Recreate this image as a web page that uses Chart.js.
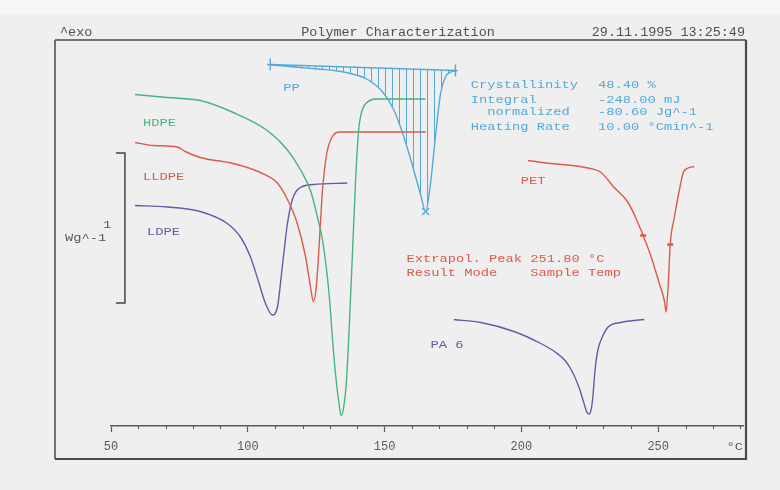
<!DOCTYPE html>
<html>
<head>
<meta charset="utf-8">
<title>Polymer Characterization</title>
<script src="https://cdn.jsdelivr.net/npm/chart.js@4.4.1/dist/chart.umd.min.js"></script>
<style>
  html, body { margin:0; padding:0; background:#efefef; }
  #wrap { width:780px; height:490px; }
</style>
</head>
<body>
<div id="wrap"><canvas id="dsc" width="780" height="490"></canvas></div>
<script>
/* DSC melting curves
   temperature in °C, heat flow in W/g (curves shifted, scale bar = 1 W/g) */

const TEMP_TICKS = [50, 100, 150, 200, 250];

const HDPE_T = [58.8, 70.5, 82.6, 94.7, 107.1, 114.5, 119.2, 122.9, 125.5, 127.3, 128.8, 129.9, 131.0, 132.1, 133.2, 134.1, 135.0, 136.1, 137.2, 138.3, 139.4, 140.5, 141.9, 143.8, 146.7, 165.0];
const HDPE_V = [2.21, 2.19, 2.17, 2.09, 1.97, 1.84, 1.71, 1.57, 1.39, 1.24, 1.04, 0.84, 0.57, 0.34, 0.17, 0.07, 0.12, 0.31, 0.71, 1.17, 1.64, 1.97, 2.11, 2.16, 2.18, 2.18];

const LLDPE_T = [58.8, 65.4, 74.2, 77.1, 82.6, 94.7, 104.6, 110.8, 114.5, 118.1, 121.1, 122.9, 124.0, 125.1, 126.2, 127.3, 128.8, 130.6, 133.9, 137.5, 165.0];
const LLDPE_V = [1.89, 1.87, 1.86, 1.83, 1.79, 1.75, 1.69, 1.62, 1.51, 1.35, 1.13, 0.93, 0.83, 0.94, 1.24, 1.57, 1.81, 1.92, 1.96, 1.96, 1.96];

const LDPE_T = [58.8, 70.5, 82.6, 92.5, 97.3, 100.9, 103.8, 106.4, 109.0, 110.8, 112.6, 114.5, 116.3, 119.2, 124.0, 136.4];
const LDPE_V = [1.47, 1.46, 1.43, 1.35, 1.26, 1.13, 0.97, 0.82, 0.74, 0.79, 1.06, 1.35, 1.51, 1.59, 1.61, 1.62];

const PP_T = [107.1, 119.2, 125.5, 131.3, 137.5, 143.8, 149.6, 153.3, 157.0, 160.6, 163.2, 165.0, 166.8, 168.7, 170.5, 172.3, 174.2, 176.7];
const PP_V = [2.41, 2.39, 2.38, 2.37, 2.35, 2.31, 2.22, 2.11, 1.93, 1.71, 1.54, 1.43, 1.62, 1.95, 2.22, 2.33, 2.36, 2.37];
const PP_BASE_T = [108.2, 175.9];
const PP_BASE_V = [2.41, 2.37];

const PET_T = [202.4, 210.8, 217.0, 224.4, 229.1, 233.9, 239.0, 242.7, 244.5, 247.4, 250.4, 252.2, 252.9, 253.3, 253.7, 254.4, 255.9, 257.7, 259.2, 261.0, 263.2];
const PET_V = [1.77, 1.75, 1.74, 1.72, 1.69, 1.59, 1.49, 1.35, 1.27, 1.13, 0.95, 0.84, 0.76, 0.84, 0.95, 1.21, 1.39, 1.57, 1.69, 1.72, 1.73];
const PET_MARKS = [244.5, 254.4];

const PA6_T = [175.3, 185.2, 197.3, 207.1, 212.6, 216.3, 219.2, 221.4, 222.9, 224.0, 224.7, 225.5, 226.2, 226.9, 228.0, 229.5, 231.7, 236.4, 244.9];
const PA6_V = [0.71, 0.69, 0.63, 0.55, 0.49, 0.43, 0.34, 0.24, 0.15, 0.09, 0.08, 0.11, 0.21, 0.37, 0.51, 0.59, 0.66, 0.69, 0.71];

// 1 W/g scale bar
const BAR_T = [51.8, 55.1, 55.1, 51.8];
const BAR_V = [1.82, 1.82, 0.82, 0.82];

const GREEN = '#48b47e', RED = '#dc5a4c', PURPLE = '#5f5fa9', BLUE = '#55a9d8', INK = '#5a5a5a';

const NOTES = [
  { text:'HDPE',  t:61.7,  v:2.02, color:GREEN },
  { text:'LLDPE', t:61.7,  v:1.66, color:RED },
  { text:'LDPE',  t:63.2,  v:1.29, color:PURPLE },
  { text:'PP',    t:113.0, v:2.25, color:BLUE },
  { text:'PET',   t:199.8, v:1.63, color:RED },
  { text:'PA 6',  t:166.8, v:0.54, color:PURPLE },
  { text:'Crystallinity', t:181.5, v:2.27, color:BLUE },
  { text:'48.40 %',       t:228.0, v:2.27, color:BLUE },
  { text:'Integral',      t:181.5, v:2.17, color:BLUE },
  { text:'-248.00 mJ',    t:228.0, v:2.17, color:BLUE },
  { text:'  normalized',  t:181.5, v:2.09, color:BLUE },
  { text:'-80.60 Jg^-1',  t:228.0, v:2.09, color:BLUE },
  { text:'Heating Rate',  t:181.5, v:1.99, color:BLUE },
  { text:'10.00 °Cmin^-1', t:228.0, v:1.99, color:BLUE },
  { text:'Extrapol. Peak 251.80 °C',   t:158.0, v:1.11, color:RED },
  { text:'Result Mode    Sample Temp', t:158.0, v:1.02, color:RED },
  { text:'1',     t:47.1,  v:1.34, color:INK },
  { text:'Wg^-1', t:33.2,  v:1.25, color:INK }
];

const pts = (t, v) => t.map((x, i) => ({ x, y: v[i] }));

function hatchPattern(color) {
  const c = document.createElement('canvas');
  c.width = 7; c.height = 7;
  const g = c.getContext('2d');
  g.strokeStyle = color;
  g.lineWidth = 1;
  g.beginPath(); g.moveTo(0.5, 0); g.lineTo(0.5, 7); g.stroke();
  return g.createPattern(c, 'repeat');
}

function plotText(ctx, s, x, y, align, sx) {
  // plotter font: wide, low letters
  ctx.save();
  ctx.translate(x, y);
  ctx.scale(sx || 1.25, 1);
  ctx.textAlign = align || 'left';
  ctx.textBaseline = 'middle';
  ctx.fillText(s, 0, 0);
  ctx.restore();
}

const ppMin = Math.min(...PP_V);

const framePlugin = {
  id: 'frame',
  beforeDraw(chart) {
    const ctx = chart.ctx;
    ctx.save();
    ctx.fillStyle = '#efefef';
    ctx.fillRect(0, 0, chart.width, chart.height);
    ctx.fillStyle = '#f6f6f6';
    ctx.fillRect(0, 0, chart.width, 14);
    ctx.restore();
  },
  afterDraw(chart) {
    const ctx = chart.ctx;
    const x = chart.scales.x, y = chart.scales.y;
    const axisY = chart.chartArea.bottom;
    ctx.save();
    // minor ticks every 10 °C
    ctx.strokeStyle = INK;
    ctx.lineWidth = 1;
    for (let t = 60; t <= 280; t += 10) {
      if (t % 50 === 0) continue;
      const px = Math.round(x.getPixelForValue(t)) + 0.5;
      ctx.beginPath(); ctx.moveTo(px, axisY); ctx.lineTo(px, axisY + 3); ctx.stroke();
    }
    ctx.font = '11px "Liberation Mono"';
    ctx.fillStyle = INK;
    plotText(ctx, '°C', x.getPixelForValue(278), axisY + 21, 'center');

    // box round the plot
    ctx.strokeStyle = '#4a4a4a';
    ctx.lineWidth = 1.5;
    ctx.beginPath();
    ctx.moveTo(55, 40); ctx.lineTo(746, 40);
    ctx.moveTo(55, 40); ctx.lineTo(55, 459);
    ctx.stroke();
    ctx.lineWidth = 2.2;
    ctx.beginPath();
    ctx.moveTo(746, 40); ctx.lineTo(746, 459); ctx.lineTo(55, 459);
    ctx.stroke();

    // header
    ctx.font = '12px "Liberation Mono"';
    ctx.fillStyle = '#505050';
    plotText(ctx, '^exo', 60, 33, 'left', 1.12);
    plotText(ctx, 'Polymer Characterization', 398, 33, 'center', 1.12);
    plotText(ctx, '29.11.1995 13:25:49', 745, 33, 'right', 1.12);

    // curve names and result texts
    ctx.font = '11px "Liberation Mono"';
    NOTES.forEach(n => {
      ctx.fillStyle = n.color;
      plotText(ctx, n.text, x.getPixelForValue(n.t), y.getPixelForValue(n.v), 'left');
    });
    ctx.restore();
  }
};

const line = (label, data, color, extra) => Object.assign({
  label, data, borderColor: color, backgroundColor: color,
  borderWidth: 1.4, pointRadius: 0, fill: false,
  cubicInterpolationMode: 'monotone'
}, extra || {});

new Chart(document.getElementById('dsc'), {
  type: 'line',
  data: {
    datasets: [
      line('HDPE', pts(HDPE_T, HDPE_V), GREEN),
      line('LLDPE', pts(LLDPE_T, LLDPE_V), RED),
      line('LDPE', pts(LDPE_T, LDPE_V), PURPLE),
      line('PP', pts(PP_T, PP_V), BLUE, {
        fill: { target: 4 },
        backgroundColor: hatchPattern(BLUE),
        pointStyle: 'crossRot',
        pointRadius: c => (c.raw && c.raw.y === ppMin ? 5 : 0),
        pointBorderWidth: 1.4
      }),
      line('PP baseline', pts(PP_BASE_T, PP_BASE_V), BLUE, {
        cubicInterpolationMode: 'default', tension: 0,
        pointStyle: 'line', rotation: 90, pointRadius: 6, pointBorderWidth: 1.4
      }),
      line('PET', pts(PET_T, PET_V), RED, {
        pointStyle: 'line',
        pointRadius: c => (c.raw && PET_MARKS.includes(c.raw.x) ? 3 : 0),
        pointBorderWidth: 2.5
      }),
      line('PA 6', pts(PA6_T, PA6_V), PURPLE),
      line('1 W/g', pts(BAR_T, BAR_V), '#444', { cubicInterpolationMode: 'default', tension: 0, borderWidth: 1.5 })
    ]
  },
  options: {
    responsive: false,
    animation: false,
    layout: { padding: { left: 111, right: 37, top: 42, bottom: 34 } },
    plugins: { legend: { display: false }, tooltip: { enabled: false } },
    scales: {
      x: {
        type: 'linear', min: 50, max: 281,
        afterBuildTicks: s => { s.ticks = TEMP_TICKS.map(v => ({ value: v })); },
        afterFit: s => { s.height = 30; },
        grid: { drawOnChartArea: false, drawTicks: true, tickLength: 6, color: INK, tickWidth: 1.2 },
        border: { display: true, color: INK, width: 1.6 },
        ticks: { padding: 8, color: '#5a5a5a', font: { family: 'Liberation Mono', size: 12 } }
      },
      y: { type: 'linear', min: 0, max: 2.56, display: false }
    }
  },
  plugins: [framePlugin]
});
</script>
</body>
</html>
